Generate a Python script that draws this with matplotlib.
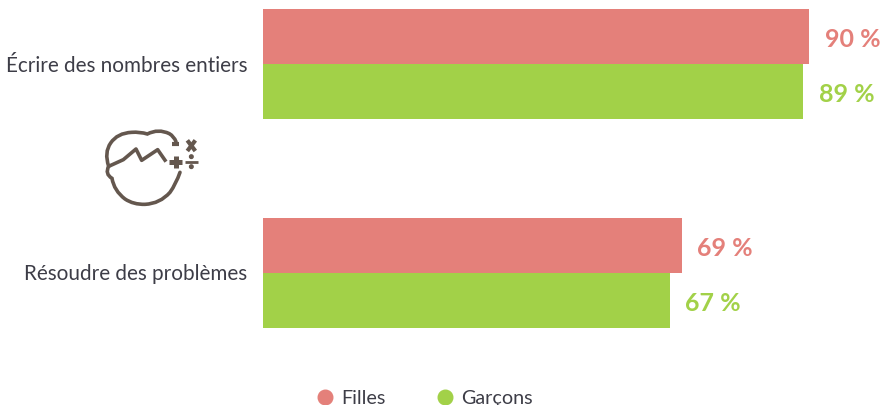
import matplotlib
matplotlib.use("Agg")
import matplotlib.pyplot as plt
from matplotlib.lines import Line2D
from matplotlib.patches import Circle, PathPatch
from matplotlib.path import Path
from matplotlib.transforms import ScaledTranslation

categories = ["Écrire des nombres entiers", "Résoudre des problèmes"]
filles = [90, 69]
garcons = [89, 67]
series_names = ["Filles", "Garçons"]

color_filles = "#e4807a"
color_garcons = "#a2d148"
text_color = "#3d3d47"
icon_color = "#64574e"

plt.rcParams['font.family'] = ['Lato', 'DejaVu Sans']
plt.rcParams['lines.solid_capstyle'] = 'butt'

W, H = 881, 406
fig = plt.figure(figsize=(W / 100, H / 100), dpi=100)
ax = fig.add_axes([263 / W, 0, (W - 263) / W, 1])

# barres horizontales
bar_h = 0.263
for i in range(len(categories)):
    ax.barh(i - bar_h / 2, filles[i], height=bar_h, color=color_filles)
    ax.barh(i + bar_h / 2, garcons[i], height=bar_h, color=color_garcons)
    ax.annotate(f"{filles[i]} %", (filles[i], i - bar_h / 2), xytext=(11, -1.5),
                textcoords="offset points", va="center", ha="left",
                fontsize=18, fontweight="bold", color=color_filles)
    ax.annotate(f"{garcons[i]} %", (garcons[i], i + bar_h / 2), xytext=(11, -1.5),
                textcoords="offset points", va="center", ha="left",
                fontsize=18, fontweight="bold", color=color_garcons)

ax.set_xlim(0, (W - 263) / 6.07)
ax.set_ylim(1.634, -0.313)
ax.set_yticks(range(len(categories)))
ax.set_yticklabels(categories, fontsize=14.9, color=text_color)
ax.tick_params(axis="y", length=0, pad=11.5)
ax.xaxis.set_visible(False)
for s in ax.spines.values():
    s.set_visible(False)

# remonte un peu les etiquettes
up = ScaledTranslation(0, 1.5 / 100, fig.dpi_scale_trans)
for t in ax.get_yticklabels():
    t.set_transform(t.get_transform() + up)

# legende
handles = [Line2D([], [], linestyle="", marker="o", markersize=10.5, color=c)
           for c in [color_filles, color_garcons]]
fig.legend(handles, series_names, loc="center", bbox_to_anchor=(424 / W, 1 - 399 / H),
           ncol=2, frameon=False, fontsize=14.2, labelcolor=text_color,
           handlelength=1.0, handletextpad=0.28, columnspacing=2.55)

# icone (coordonnees du dessin, en pixels de la figure)
icon = fig.add_axes([0, 0, 1, 1])
icon.set_xlim(0, W)
icon.set_ylim(H, 0)
icon.axis("off")
icon.patch.set_alpha(0)


def pix(x, y):
    return (90 + x / 3, 120 + y / 3)


def curve(points):
    # points : depart puis paires (controle, arrivee)
    codes = [Path.MOVETO] + [Path.CURVE3] * (len(points) - 1)
    return Path([pix(*p) for p in points], codes)


strokes = [
    # cheveux
    curve([(56, 142), (42, 100), (62, 72), (82, 42), (125, 40), (150, 38), (172, 45),
           (205, 28), (238, 44), (252, 52), (258, 68)]),
    # face
    curve([(56, 142), (44, 165), (66, 178), (72, 215), (105, 240), (130, 257), (165, 256),
           (210, 254), (240, 220), (258, 195), (270, 160)]),
]
for p in strokes:
    icon.add_patch(PathPatch(p, fc="none", ec=icon_color, lw=2.6, capstyle="round"))

fringe_x = [56, 100, 138, 155, 203, 228]
fringe_y = [142, 122, 90, 124, 92, 128]
icon.plot([pix(x, 0)[0] for x in fringe_x], [pix(0, y)[1] for y in fringe_y],
          color=icon_color, lw=2.6, solid_joinstyle="round")

# signes
icon.plot(*zip(pix(247, 76), pix(266, 76)), color=icon_color, lw=3)
icon.plot(*zip(pix(238, 128), pix(276, 128)), color=icon_color, lw=3.6)
icon.plot(*zip(pix(257, 110), pix(257, 148)), color=icon_color, lw=3.6)
icon.plot(*zip(pix(285, 128), pix(324, 128)), color=icon_color, lw=2)
icon.plot(*zip(pix(292, 64), pix(316, 96)), color=icon_color, lw=3)
icon.plot(*zip(pix(316, 64), pix(292, 96)), color=icon_color, lw=3)
for y in (113, 143):
    icon.add_patch(Circle(pix(304, y), 1.8, color=icon_color))

fig.savefig("out.png", dpi=100)
